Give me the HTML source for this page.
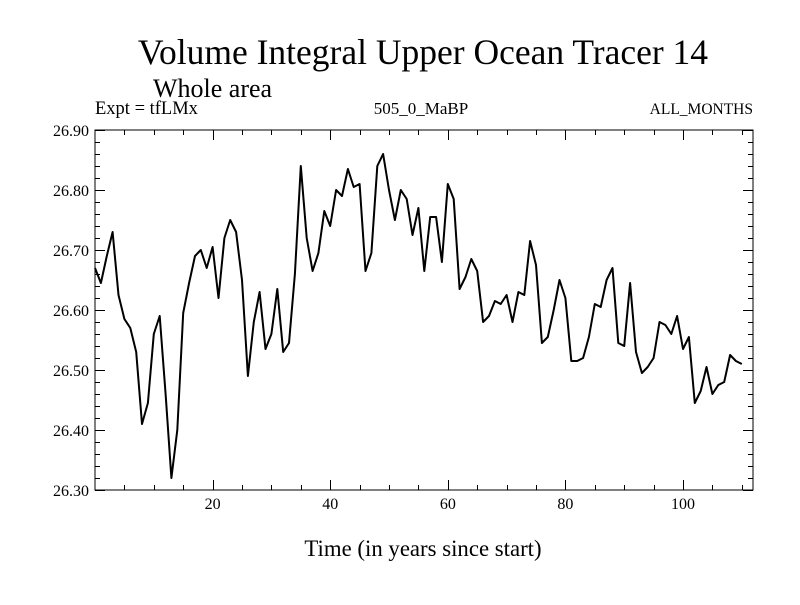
<!DOCTYPE html>
<html><head><meta charset="utf-8"><style>
body{margin:0;background:#fff}
svg text{font-family:"Liberation Serif",serif;fill:#000}
</style></head><body>
<svg id="c" width="800" height="600">
<text x="423" y="64" font-size="35.5" text-anchor="middle">Volume Integral Upper Ocean Tracer 14</text>
<text x="153" y="97" font-size="26">Whole area</text>
<text x="95" y="114" font-size="18.5">Expt = tfLMx</text>
<text x="421" y="114" font-size="17" text-anchor="middle">505_0_MaBP</text>
<text x="753" y="114" font-size="15.5" text-anchor="end">ALL_MONTHS</text>
<text x="423" y="556" font-size="22.8" text-anchor="middle">Time (in years since start)</text>
<g id="axes"></g>
<path id="line" fill="none" stroke="#000" stroke-width="2" stroke-linejoin="round"></path>
</svg>
<script>
const values=[26.67,26.645,26.69,26.73,26.625,26.585,26.57,26.53,26.41,26.445,26.56,26.59,26.46,26.32,26.40,26.595,26.645,26.69,26.70,26.67,26.705,26.62,26.72,26.75,26.73,26.65,26.49,26.58,26.63,26.535,26.56,26.635,26.53,26.545,26.66,26.84,26.72,26.665,26.695,26.765,26.74,26.80,26.79,26.835,26.805,26.81,26.665,26.695,26.84,26.86,26.80,26.75,26.80,26.785,26.725,26.77,26.665,26.755,26.755,26.68,26.81,26.785,26.635,26.655,26.685,26.665,26.58,26.59,26.615,26.61,26.625,26.58,26.63,26.625,26.715,26.675,26.545,26.555,26.60,26.65,26.62,26.515,26.515,26.52,26.555,26.61,26.605,26.65,26.67,26.545,26.54,26.645,26.53,26.495,26.505,26.52,26.58,26.575,26.56,26.59,26.535,26.555,26.445,26.465,26.505,26.46,26.475,26.48,26.525,26.515,26.51];
const yTickLabels=["26.30","26.40","26.50","26.60","26.70","26.80","26.90"];
const xTickLabels=[20,40,60,80,100];
const X0=95,X1=753,Y0=130,Y1=490,xMin=0,xMax=111.9,yMin=26.3,yMax=26.9;
const sx=v=>X0+(v-xMin)/(xMax-xMin)*(X1-X0);
const sy=v=>Y1-(v-yMin)/(yMax-yMin)*(Y1-Y0);
const NS="http://www.w3.org/2000/svg";
const ax=document.getElementById('axes');
function ln(x1,y1,x2,y2,name){const l=document.createElementNS(NS,'line');
l.setAttribute('x1',x1);l.setAttribute('y1',y1);l.setAttribute('x2',x2);l.setAttribute('y2',y2);
l.setAttribute('stroke','#000');l.setAttribute('stroke-width','1');


ax.appendChild(l);}
function tx(x,y,s,anchor,name){const t=document.createElementNS(NS,'text');
t.setAttribute('x',x);t.setAttribute('y',y);t.setAttribute('font-size','16');t.setAttribute('text-anchor',anchor);t.textContent=s;


ax.appendChild(t);}
const fr=document.createElementNS(NS,'rect');
fr.setAttribute('x',X0);fr.setAttribute('y',Y0);fr.setAttribute('width',X1-X0);fr.setAttribute('height',Y1-Y0);
fr.setAttribute('fill','none');fr.setAttribute('stroke','#000');


ax.appendChild(fr);
for(let i=0;i<=30;i++){const v=yMin+i*0.02;const y=Math.round(sy(v))+0.5;const L=i%5===0?10:5;
ln(X0,y,X0+L,y,'y-tick');ln(X1-L,y,X1,y,'y-tick-right');}
yTickLabels.forEach(s=>tx(X0-6,sy(parseFloat(s))+6,s,'end','y-tick-label'));
for(let v=5;v<xMax;v+=5){const x=Math.round(sx(v))+0.5;const L=v%20===0?10:5;
ln(x,Y1,x,Y1-L,'x-tick');ln(x,Y0,x,Y0+L,'x-tick-top');}
xTickLabels.forEach(v=>tx(sx(v),Y1+19,String(v),'middle','x-tick-label'));
document.getElementById('line').setAttribute('d',values.map((v,i)=>(i?'L':'M')+sx(Math.min(i,xMax)).toFixed(1)+' '+sy(v).toFixed(1)).join(' '));
</script>
</body></html>
